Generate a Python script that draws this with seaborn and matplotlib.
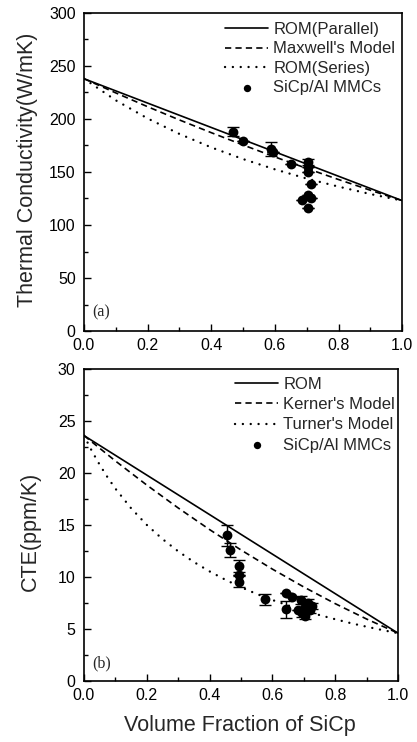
import numpy as np
import pandas as pd
import matplotlib
matplotlib.use("Agg")
import matplotlib.pyplot as plt
from matplotlib.ticker import MultipleLocator
import seaborn as sns

# ---- model curves: thermal conductivity (W/mK) vs SiC volume fraction ----
vf_grid = [0.0, 0.1, 0.2, 0.3, 0.4, 0.5, 0.6, 0.7, 0.8, 0.9, 1.0]
tc_rom_parallel = [238, 226.5, 215, 203.5, 192, 180.5, 169, 157.5, 146, 134.5, 123]
tc_maxwell = [238, 224.6, 211.6, 199.1, 187.1, 175.5, 164.2, 153.4, 142.9, 132.8, 123.0]
tc_rom_series = [238, 217.6, 200.5, 185.9, 173.2, 162.2, 152.5, 143.8, 136.2, 129.2, 123.0]

# ---- measured thermal conductivity of SiCp/Al composites ----
tc_vf = [0.467, 0.499, 0.589, 0.594, 0.652, 0.703, 0.703, 0.703, 0.713, 0.705, 0.684, 0.712, 0.705]
tc_val = [188, 179, 172, 168.5, 158, 159.5, 155, 150, 138.5, 128, 123.5, 125, 116]
tc_err = [4.5, 0, 6.5, 0, 0, 2.5, 0, 0, 0, 0, 0, 0, 0]

# ---- model curves: CTE (ppm/K) ----
cte_rom = [23.6, 21.7, 19.8, 17.9, 16.0, 14.1, 12.2, 10.3, 8.4, 6.5, 4.6]
cte_kerner = [23.6, 21.16, 18.84, 16.64, 14.56, 12.6, 10.76, 9.04, 7.44, 5.96, 4.6]
vf_turner = [0.0, 0.025, 0.05, 0.075, 0.1, 0.15, 0.2, 0.25, 0.3, 0.35, 0.4, 0.45,
             0.5, 0.55, 0.6, 0.65, 0.7, 0.75, 0.8, 0.85, 0.9, 0.95, 1.0]
cte_turner = [23.6, 22.12, 20.79, 19.59, 18.50, 16.61, 15.01, 13.65, 12.47, 11.44, 10.54,
              9.74, 9.02, 8.37, 7.79, 7.27, 6.78, 6.34, 5.94, 5.56, 5.22, 4.90, 4.60]

# ---- measured CTE of SiCp/Al composites ----
cte_vf = [0.457, 0.464, 0.494, 0.494, 0.494, 0.578, 0.643, 0.662, 0.643, 0.692,
          0.705, 0.715, 0.694, 0.72, 0.705, 0.68, 0.725, 0.71]
cte_val = [14.0, 12.6, 11.06, 10.2, 9.55, 7.86, 8.43, 8.05, 6.9, 7.8,
           7.15, 7.5, 6.5, 6.8, 6.25, 6.8, 7.2, 7.0]
cte_err = [1.0, 0.7, 0.6, 0, 0.5, 0.55, 0, 0, 0.8, 0.4,
           0.3, 0.4, 0.3, 0.3, 0.3, 0, 0.3, 0]

sns.set_style("ticks")
plt.rcParams["font.family"] = ["Liberation Sans", "DejaVu Sans"]
plt.rcParams["lines.scale_dashes"] = False

fig = plt.figure(figsize=(4.17, 7.42), dpi=100)
ax_tc = fig.add_axes([0.2014, 0.5539, 0.763, 0.4286])
ax_cte = fig.add_axes([0.2014, 0.0822, 0.753, 0.4205])

LW = 1.2
DASH = (4.5, 3.0)
DOT = (0.05, 5.6)


def draw_models(ax, curves):
    handles = []
    for x, y, style, label in curves:
        df = pd.DataFrame({"vf": x, "val": y})
        sns.lineplot(data=df, x="vf", y="val", ax=ax, color="black",
                     linewidth=LW if style != "dot" else 1.7, label=label,
                     errorbar=None, sort=False)
        line = ax.lines[-1]
        if style == "dash":
            line.set_dashes(DASH)
        elif style == "dot":
            line.set_dashes(DOT)
            line.set_dash_capstyle("round")
        handles.append(line)
    return handles


def draw_measured(ax, x, y, err, label):
    ax.errorbar(x, y, yerr=err, fmt="none", ecolor="black", elinewidth=1.0,
                capsize=4.5, capthick=1.0, zorder=3)
    df = pd.DataFrame({"vf": x, "val": y})
    sns.scatterplot(data=df, x="vf", y="val", ax=ax, color="black", s=50,
                    edgecolor="black", linewidth=0, label=label, zorder=4)
    return ax.collections[-1]


def style_axes(ax, ymax, ymajor, yminor):
    ax.set_xlim(0, 1.0)
    ax.set_ylim(0, ymax)
    ax.xaxis.set_major_locator(MultipleLocator(0.2))
    ax.xaxis.set_minor_locator(MultipleLocator(0.1))
    ax.yaxis.set_major_locator(MultipleLocator(ymajor))
    ax.yaxis.set_minor_locator(MultipleLocator(yminor))
    ax.xaxis.set_major_formatter(matplotlib.ticker.FormatStrFormatter("%.1f"))
    ax.tick_params(which="both", direction="in", top=False, right=False,
                   width=1.0, labelsize=11.5, colors="black")
    ax.tick_params(which="major", length=5)
    ax.tick_params(which="minor", length=3)
    ax.tick_params(axis="y", pad=6)
    ax.tick_params(axis="x", pad=5)
    for sp in ax.spines.values():
        sp.set_visible(True)
        sp.set_linewidth(1.2)
        sp.set_color("black")


# ---------------- (a) thermal conductivity ----------------
h_tc = draw_models(ax_tc, [
    (vf_grid, tc_rom_parallel, "solid", "ROM(Parallel)"),
    (vf_grid, tc_maxwell, "dash", "Maxwell's Model"),
    (vf_grid, tc_rom_series, "dot", "ROM(Series)"),
])
h_tc.append(draw_measured(ax_tc, tc_vf, tc_val, tc_err, "SiCp/Al MMCs"))
style_axes(ax_tc, 300, 50, 25)
ax_tc.set_xlabel("")
ax_tc.set_ylabel("Thermal Conductivity(W/mK)", fontsize=15.5)
ax_tc.yaxis.set_label_coords(-0.179, 0.506)
ax_tc.yaxis.label.set_verticalalignment("center")
ax_tc.text(0.025, 0.057, "(a)", transform=ax_tc.transAxes, fontsize=11.5,
           family=["Liberation Serif"], va="center", ha="left")
ax_tc.legend(handles=h_tc, labels=["ROM(Parallel)", "Maxwell's Model",
                                   "ROM(Series)", "SiCp/Al MMCs"],
             loc="upper left", bbox_to_anchor=(0.443, 0.972), frameon=False,
             fontsize=12, borderpad=0, borderaxespad=0, handlelength=2.6,
             handletextpad=0.3, labelspacing=0.27, markerscale=0.75)

# ---------------- (b) coefficient of thermal expansion ----------------
h_cte = draw_models(ax_cte, [
    (vf_grid, cte_rom, "solid", "ROM"),
    (vf_grid, cte_kerner, "dash", "Kerner's Model"),
    (vf_turner, cte_turner, "dot", "Turner's Model"),
])
h_cte.append(draw_measured(ax_cte, cte_vf, cte_val, cte_err, "SiCp/Al MMCs"))
style_axes(ax_cte, 30, 5, 2.5)
ax_cte.set_ylabel("CTE(ppm/K)", fontsize=15.5)
ax_cte.yaxis.set_label_coords(-0.172, 0.481)
ax_cte.yaxis.label.set_verticalalignment("center")
ax_cte.set_xlabel("Volume Fraction of SiCp", fontsize=15.5)
ax_cte.xaxis.set_label_coords(0.497, -0.144)
ax_cte.xaxis.label.set_verticalalignment("center")
ax_cte.text(0.025, 0.057, "(b)", transform=ax_cte.transAxes, fontsize=11.5,
            family=["Liberation Serif"], va="center", ha="left")
ax_cte.legend(handles=h_cte, labels=["ROM", "Kerner's Model",
                                     "Turner's Model", "SiCp/Al MMCs"],
              loc="upper left", bbox_to_anchor=(0.481, 0.975), frameon=False,
              fontsize=12, borderpad=0, borderaxespad=0, handlelength=2.6,
              handletextpad=0.3, labelspacing=0.32, markerscale=0.75)

fig.savefig("out.png", dpi=100)
